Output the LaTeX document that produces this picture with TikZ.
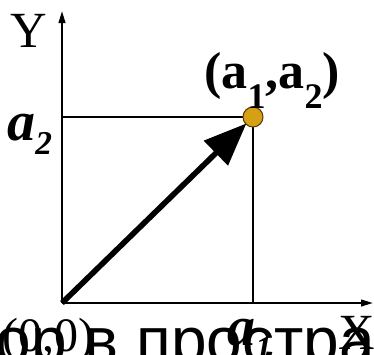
\documentclass[tikz,border=0pt]{standalone}
\usepackage{fontspec}
\setmainfont{Liberation Serif}
\newfontfamily\cyrsans{Liberation Sans}
\usepackage{xcolor}
\usepackage{tikz}
\usetikzlibrary{arrows.meta, calc}
\definecolor{pointgold}{RGB}{214, 160, 20}
\definecolor{pointedge}{RGB}{90, 60, 10}
\newcommand{\lowsub}[3]{\raisebox{#2}{\fontsize{#3}{#3}\selectfont #1}}

\begin{document}
\begin{tikzpicture}[x=0.75pt, y=-0.75pt,
    axis/.style={line width=1.5pt, -{Triangle[length=9pt, width=5pt]}},
    guide/.style={line width=1.1pt},
    vec/.style={line width=4.2pt, -{Triangle[length=32pt, width=25pt]}, shorten >=-1pt},
    lbl/.style={inner sep=0pt, anchor=base west}]
    \useasboundingbox (0,0) rectangle (374,354);
    \clip (0,0) rectangle (374,354);
    % axes and guide lines
    \coordinate (O) at (62,303);
    \coordinate (ytop) at (62,11);
    \coordinate (xend) at (373,303);
    \coordinate (Py) at (62,117);
    \coordinate (Px) at (253,303);
    \coordinate (P0) at (253,117);
    \draw[axis] (O) -- (ytop);
    \draw[axis] (O) -- (xend);
    \draw[guide] (Py) -- (P0);
    \draw[guide] (Px) -- (P0);
    \node[circle, fill=pointgold, draw=pointedge, line width=0.8pt,
          minimum size=15pt, inner sep=0pt] (P) at (P0) {};
    \draw[vec] (O) -- (P);
    % labels
    \node[lbl] (yl) at (10,47) {\fontsize{38}{40}\selectfont Y};
    \node[lbl] (xl) at (338,349) {\fontsize{38}{40}\selectfont X};
    \node[lbl] (atwo) at (7,140) {\fontsize{42}{44}\selectfont\bfseries\itshape a\lowsub{2}{-0.25em}{25}};
    \node[lbl] (ptlbl) at (204,88) {\fontsize{39}{41}\selectfont\bfseries (a\lowsub{1}{-0.4em}{27},a\lowsub{2}{-0.4em}{27})};
    \node[lbl] (orig) at (2,351) {\fontsize{36}{38}\selectfont (0,0)};
    \node[lbl] (aone) at (227,345) {\fontsize{42}{44}\selectfont\bfseries\itshape a\lowsub{1}{-0.25em}{25}};
    \node[lbl] (caption) at (-140,362) {\cyrsans\fontsize{48}{50}\selectfont Вектор в пространстве};
\end{tikzpicture}
\end{document}
